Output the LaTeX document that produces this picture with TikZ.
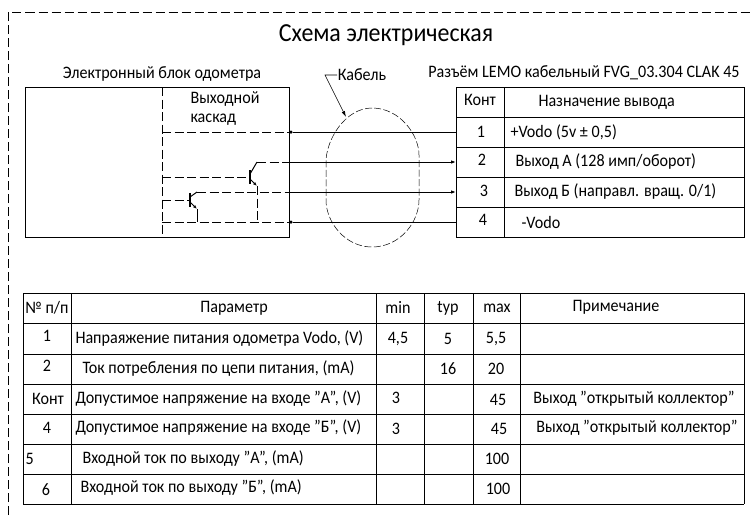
\documentclass[tikz,border=0pt]{standalone}
\usepackage{fontspec}
\setmainfont[FakeStretch=0.92,Ligatures=ResetAll]{Carlito}
\usepackage{tikz}
\usetikzlibrary{calc}
\usetikzlibrary{positioning}
\usetikzlibrary{arrows.meta}

\begin{document}
\begin{tikzpicture}
		[
		x=1pt,y=-1pt,
		font=\fontsize{17.5}{19}\selectfont,
		line width=1pt
		]
		
		% Styles of lines and texts
		\tikzstyle{frame line}=[dash pattern=on 9pt off 4pt,line width=0.9pt];
		\tikzstyle{circuit line}=[dash pattern=on 9pt off 3.5pt,line width=1pt];
		\tikzstyle{thin dash}=[dash pattern=on 7pt off 2.5pt,line width=0.5pt];
		\tikzstyle{cell}=[draw,rectangle,inner sep=0,outer sep=0];
		\tikzstyle{txt}=[inner sep=0,anchor=center];
		\tikzstyle{ltxt}=[inner sep=0,anchor=west];
		\tikzstyle{dot}=[circle,fill=black,inner sep=0,minimum size=3.5pt];
		\tikzstyle{pin}=[-{Latex[length=5pt,width=3.5pt]}];
		
		\useasboundingbox (0,0) rectangle (752,515);
		
		% Sheet frame
		\draw[frame line] (8.5,515) -- (8.5,12) -- (752,12);
		
		% Title
		\node(title)[txt,font=\fontsize{26}{28}\selectfont] at (386,35){Схема электрическая};
		\node(blockname)[txt] at (162,74){Электронный блок одометра};
		\node(cablename)[txt] at (362,75){Кабель};
		\node(lemoname)[txt] at (584,73){Разъём LEMO кабельный FVG\_03.304 CLAK 45};
		
		% Electronic block
		\node(block)[cell,minimum width=264pt,minimum height=150pt] at (157,162){};
		\node(stagea)[ltxt] at (190,99){Выходной};
		\node(stageb)[ltxt] at (190,120){каскад};
		\draw[circuit line] (162,87) -- (162,237);
		
		% Connector table
		\foreach \y in {1,2,3,4}
		\node(k\y)[cell,minimum width=48pt,minimum height=30pt] at (480,{102+30*\y}){};
		\node(khead)[cell,minimum width=48pt,minimum height=30pt] at (480,102){};
		\node(phead)[cell,minimum width=240pt,minimum height=30pt] at (624,102){};
		\foreach \y in {1,2,3,4}
		\node(p\y)[cell,minimum width=240pt,minimum height=30pt] at (624,{102+30*\y}){};
		
		% Connector texts
		\node(kt0)[txt] at (480,100){Конт};
		\node(kt1)[txt] at (481,132){1};
		\node(kt2)[txt] at (482,160){2};
		\node(kt3)[txt] at (484,191){3};
		\node(kt4)[txt] at (483,220){4};
		\node(pt0)[ltxt] at (538,102){Назначение вывода};
		\node(pt1)[ltxt] at (510,132){+Vodo (5v ± 0,5)};
		\node(pt2)[ltxt] at (515,162){Выход А (128 имп/оборот)};
		\node(pt3)[ltxt] at (514,192){Выход Б (направл. вращ. 0/1)};
		\node(pt4)[ltxt] at (521,222){-Vodo};
		
		% Wires
		\node(d1)[dot] at (291,132){};
		\node(d4)[dot] at (291,222){};
		\coordinate(b1) at (162,132);
		\coordinate(b2) at (162,177);
		\coordinate(b3) at (162,200);
		\coordinate(b4) at (162,222);
		\coordinate(o2) at (289,162);
		\coordinate(o3) at (289,192);
		\draw (d1) -- (k1.west);
		\draw[pin] (o2) -- (k2.west);
		\draw[pin] (o3) -- (k3.west);
		\draw (d4) -- (k4.west);
		\draw[circuit line] (b1) -- (d1);
		\draw[circuit line] (b4) -- (d4);
		
		% Transistors
		\coordinate(ta) at (250,177);
		\coordinate(tb) at (190,200);
		\draw[circuit line] (b2) -- (ta);
		\draw[circuit line] (b3) -- (tb);
		\draw[line width=1.4pt] (250,170) -- (250,184);
		\draw[line width=1.4pt] (190,193) -- (190,207);
		\draw (ta) ++(0,-3) -- (257,162);
		\draw[circuit line] (257,162) -- (o2);
		\draw[-{Latex[length=4pt,width=3pt]}] (ta) ++(0,2) -- (257,186);
		\draw[circuit line] (257,186) -- (257,222);
		\draw (tb) ++(0,-3) -- (197,192);
		\draw[circuit line] (197,192) -- (o3);
		\draw[-{Latex[length=4pt,width=3pt]}] (tb) ++(0,2) -- (197,209);
		\draw (197,209) -- (197,222);
		
		% Cable
		\draw[thin dash] (372,108) .. controls (345,108) and (326,140) .. (326,162)
		-- (326,200) .. controls (326,222) and (345,247) .. (372,247)
		.. controls (400,247) and (419,222) .. (419,200)
		-- (419,155) .. controls (419,135) and (400,108) .. (372,108) -- cycle;
		\draw[-{Latex[length=6pt,width=3.5pt]},line width=0.6pt] (337,75) -- (325,75) -- (346,117);
		
		% Parameter table
		\foreach \y in {293,323,354,384,414,444,474,504}
		\draw (23,\y) -- (744,\y);
		\foreach \x in {23,71.5,376.5,424,473,520,744}
		\draw (\x,293) -- (\x,504);
		
		% First column and parameters
		\node(n0)[txt] at (47,308){№ п/п};
		\node(n1)[txt] at (47,336){1};
		\node(n2)[txt] at (47,366){2};
		\node(n3)[txt] at (48,399){Конт};
		\node(n4)[txt] at (47,428){4};
		\node(n5)[ltxt] at (25,459){5};
		\node(n6)[txt] at (46,490){6};
		\node(par0)[txt] at (234,308){Параметр};
		\node(par1)[ltxt] at (75,339){Напраяжение питания одометра Vodo, (V)};
		\node(par2)[ltxt] at (82,369){Ток потребления по цепи питания, (mA)};
		\node(par3)[ltxt] at (75,399){Допустимое напряжение на входе "А", (V)};
		\node(par4)[ltxt] at (75,428){Допустимое напряжение на входе "Б", (V)};
		\node(par5)[ltxt] at (82,459){Входной ток по выходу "А", (mA)};
		\node(par6)[ltxt] at (80,488){Входной ток по выходу "Б", (mA)};
		
		% Limits
		\foreach \n/\x/\y/\t in {mn0/398/307/min,mn1/398/339/{4,5},mn3/396/398/3,mn4/396/429/3,
			tp0/448/308/typ,tp1/448/339/5,tp2/448/369/16,
			mx0/497/308/max,mx1/496/339/{5,5},mx2/496/369/20,mx3/498/400/45,mx4/499/429/45,mx5/497/459/100,mx6/498/489/100}
		\node(\n)[txt] at (\x,\y){\t};
		
		% Notes
		\node(note0)[txt] at (616,307){Примечание};
		\node(note3)[txt] at (634,399){Выход "открытый коллектор"};
		\node(note4)[txt] at (637,428){Выход "открытый коллектор"};
		\end{tikzpicture}
\end{document}
